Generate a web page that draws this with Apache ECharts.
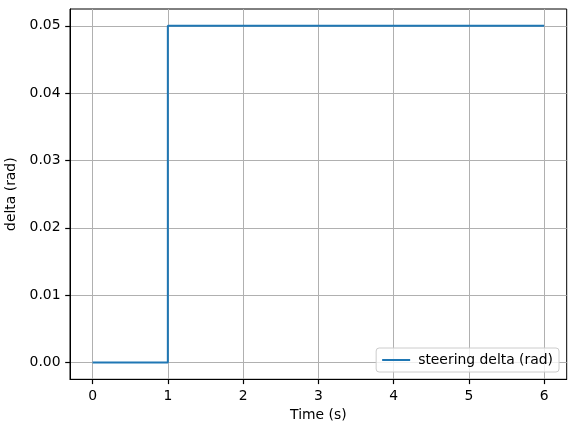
<!DOCTYPE html>
<html>
<head>
<meta charset="utf-8">
<script src="https://cdn.jsdelivr.net/npm/echarts@6/dist/echarts.min.js"></script>
<style>html,body{margin:0;padding:0;background:#fff}#c{width:576px;height:432px}</style>
</head>
<body>
<div id="c"></div>
<script>
const timeValues = [0, 1, 1, 6];
const deltaValues = [0, 0, 0.05, 0.05];
const xTicks = [0, 1, 2, 3, 4, 5, 6];
const yTicks = [0, 0.01, 0.02, 0.03, 0.04, 0.05];
const seriesName = 'steering delta (rad)';

const chart = echarts.init(document.getElementById('c'), null, {renderer: 'canvas'});
const font = "'DejaVu Sans', sans-serif";
const fs = 13.9;
chart.setOption({
  animation: false,
  backgroundColor: '#fff',
  grid: {left: 70, top: 9, right: 9.3, bottom: 52.7, show: true, borderColor: '#000', borderWidth: 1,
         backgroundColor: 'transparent', containLabel: false, outerBoundsMode: 'none'},
  xAxis: {
    type: 'value', min: -0.3, max: 6.3,
    name: 'Time (s)', nameLocation: 'middle', nameGap: 29,
    nameTextStyle: {fontFamily: font, fontSize: fs, color: '#000'},
    axisLine: {show: true, onZero: false, lineStyle: {color: '#000', width: 1}},
    axisTick: {show: true, inside: false, length: 4.8, customValues: xTicks, lineStyle: {color: '#000', width: 1.2}},
    axisLabel: {customValues: xTicks, fontFamily: font, fontSize: fs, color: '#000', margin: 10},
    splitLine: {show: true, lineStyle: {color: '#b0b0b0', width: 1}}
  },
  yAxis: {
    type: 'value', min: -0.0025, max: 0.0525,
    name: 'delta (rad)', nameLocation: 'middle', nameGap: 40, nameRotate: 90,
    nameTextStyle: {fontFamily: font, fontSize: fs, color: '#000'},
    axisLine: {show: true, onZero: false, lineStyle: {color: '#000', width: 1}},
    axisTick: {show: true, inside: false, length: 4.8, customValues: yTicks, lineStyle: {color: '#000', width: 1.2}},
    axisLabel: {customValues: yTicks, fontFamily: font, fontSize: fs, color: '#000', margin: 9.5, formatter: v => v.toFixed(2)},
    splitLine: {show: true, lineStyle: {color: '#b0b0b0', width: 1}}
  },
  legend: {
    right: 17, bottom: 60, orient: 'vertical',
    icon: 'rect', itemWidth: 28, itemHeight: 2, itemGap: 0,
    padding: [5, 6, 5, 6],
    backgroundColor: 'rgba(255,255,255,0.8)', borderColor: '#cccccc', borderWidth: 1, borderRadius: 3,
    textStyle: {fontFamily: font, fontSize: fs, color: '#000', padding: [0, 0, 0, 3]},
    data: [seriesName]
  },
  series: [{
    name: seriesName, type: 'line',
    data: timeValues.map((t, i) => [t, deltaValues[i]]),
    showSymbol: false, symbol: 'none',
    lineStyle: {color: '#1f77b4', width: 2},
    itemStyle: {color: '#1f77b4'}
  }]
});
</script>
</body>
</html>
